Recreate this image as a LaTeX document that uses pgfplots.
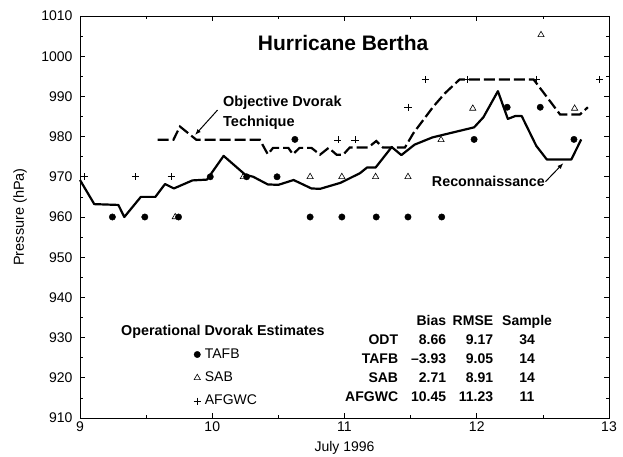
\documentclass[border=0pt]{standalone}
\usepackage{fontspec}
\setmainfont{Liberation Sans}
\usepackage{pgfplots}
\pgfplotsset{compat=1.18}
\usetikzlibrary{arrows.meta}
\pgfplotsset{dotlegend/.style={legend image code/.code={\draw[##1] plot coordinates {(0pt,0pt)};}}}
\begin{document}
\begin{tikzpicture}
\useasboundingbox (0pt,0pt) rectangle (623pt,457pt);
\begin{axis}[
  at={(80pt,39pt)}, anchor=south west,
  scale only axis, width=529pt, height=402pt,
  xmin=9, xmax=13, ymin=910, ymax=1010,
  xtick={9,10,11,12,13}, ytick={910,920,...,1010},
  minor x tick num=1, minor y tick num=1,
  tick align=inside,
  major tick length=5pt, minor tick length=3pt,
  axis line style={line width=0.8pt, black},
  every tick/.style={black, line width=0.6pt},
  /pgf/number format/assume math mode=true,
  /pgf/number format/1000 sep={},
  tick label style={font=\fontsize{14}{16}\selectfont},
  yticklabel style={xshift=-4pt},
  xlabel={July 1996}, ylabel={Pressure (hPa)},
  every axis x label/.style={at={(axis description cs:0.5,-0.075)}, anchor=center, font=\fontsize{14}{16}\selectfont},
  every axis y label/.style={at={(axis description cs:-0.113,0.5)}, rotate=90, anchor=center, font=\fontsize{14.5}{16}\selectfont},
  legend style={draw=none, fill=none, font=\fontsize{14}{16}\selectfont,
    at={(axis cs:9.858,927.46)}, anchor=north west, inner sep=0pt,
    row sep=10.3pt, column sep=4pt,
    nodes={inner sep=0pt, text height=10pt, text depth=3pt}},
  legend cell align=left,
  clip=false,
]
% Reconnaissance
\addplot[black, line width=2.2pt, line join=round, forget plot] coordinates {
(9.0,969.2) (9.108,963.2) (9.29,963) (9.335,960) (9.46,965) (9.57,965)
(9.643,968.2) (9.71,967.1) (9.85,969.1) (9.96,969.3) (10.086,975.2)
(10.25,970.5) (10.31,970) (10.42,968.1) (10.5,968) (10.615,969.2)
(10.75,967.1) (10.815,967) (10.97,968.5) (11.117,970.9) (11.17,972.3)
(11.235,972.3) (11.357,977.4) (11.43,975.4) (11.53,978) (11.665,979.8)
(11.98,982.3) (12.05,984.8) (12.16,991.3) (12.235,984.4) (12.29,985.1)
(12.34,985.1) (12.45,977.7) (12.53,974.3) (12.715,974.3) (12.79,979.3)
};
% Objective Dvorak Technique
\addplot[black, line width=2.2pt, dash pattern=on 11pt off 4pt, forget plot] coordinates {
(9.587,979.2) (9.706,979.2) (9.756,982.5) (9.88,979.2) (10.36,979.2)
(10.42,975.6) (10.46,977.2) (10.575,977.2) (10.61,975.6) (10.66,977.2)
(10.75,977.2) (10.815,975.5) (10.88,977.2) (10.94,975.5) (10.99,975.5)
(11.04,977.3) (11.18,977.3) (11.24,978.9) (11.29,977.3) (11.457,977.3)
(11.52,980.8) (11.67,987.4) (11.76,990.8) (11.87,994.2) (12.43,994.2)
(12.63,985.5) (12.78,985.5) (12.84,987.3)
};
% TAFB
\addplot[only marks, mark=*, mark size=3.2pt, black, dotlegend] coordinates {
(9.245,960) (9.49,960) (9.745,960) (9.985,970) (10.26,970) (10.49,970)
(10.625,979.3) (10.74,960) (10.98,960) (11.24,960) (11.48,960) (11.735,960)
(11.98,979.3) (12.23,987.3) (12.48,987.3) (12.735,979.3)
};
\addlegendentry{TAFB}
% SAB
\addplot[only marks, mark=triangle, mark size=3.6pt, black, line width=0.6pt, dotlegend] coordinates {
(9.72,960) (10.235,970) (10.74,970) (10.98,970) (11.235,970) (11.48,970)
(11.73,979.2) (11.97,987) (12.486,1005.3) (12.74,987)
};
\addlegendentry{SAB}
% AFGWC
\addplot[only marks, mark=+, mark size=3.6pt, black, line width=0.6pt, dotlegend] coordinates {
(9.03,970) (9.42,970) (9.69,970) (10.95,979.2) (11.08,979.2) (11.48,987.3)
(11.61,994.2) (11.925,994.2) (12.45,994.2) (12.93,994.2)
};
\addlegendentry{AFGWC}

\node[font=\fontsize{21}{24}\selectfont\bfseries] at (axis cs:10.99,1003.3) {Hurricane Bertha};
\node[font=\fontsize{14.5}{20}\selectfont\bfseries, align=left, anchor=west, inner sep=0pt]
  at (axis cs:10.081,985.9) {Objective Dvorak\\Technique};
\draw[line width=1pt, -{Latex[length=6pt,width=4.5pt]}] (axis cs:10.04,986.6) -- (axis cs:9.87,980.4);
\node[font=\fontsize{14.3}{16}\selectfont\bfseries, anchor=west, inner sep=0pt]
  at (axis cs:11.66,968.8) {Reconnaissance};
\draw[line width=1pt, -{Latex[length=6pt,width=4.5pt]}] (axis cs:12.52,968.8) -- (axis cs:12.655,973.4);
\node[font=\fontsize{14.3}{16}\selectfont\bfseries, anchor=west, inner sep=0pt]
  at (axis cs:9.31,931.5) {Operational Dvorak Estimates};
\node[font=\fontsize{14}{19}\selectfont\bfseries, anchor=base west, inner sep=0pt]
  at (axis cs:11.004,933.1) {%
  \begin{tabular}[t]{@{}r@{\hspace{13pt}}r@{\hspace{6.6pt}}r@{\hspace{9pt}}c@{}}
   & Bias & RMSE & Sample\\
  ODT & 8.66 & 9.17 & 34\\
  TAFB & \textendash3.93 & 9.05 & 14\\
  SAB & 2.71 & 8.91 & 14\\
  AFGWC & 10.45 & 11.23 & 11
  \end{tabular}};
\end{axis}
\end{tikzpicture}
\end{document}
